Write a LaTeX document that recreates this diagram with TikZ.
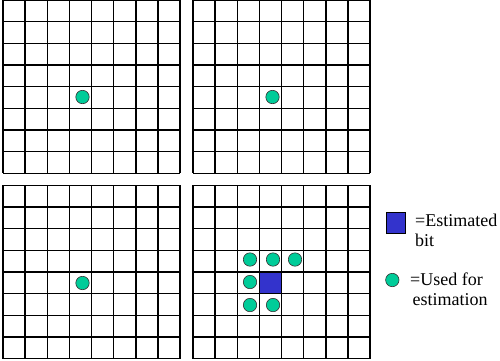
\documentclass[tikz,border=0pt]{standalone}
\usepackage{fontspec}
\setmainfont{Liberation Serif}
\newfontfamily\legendfont{Liberation Serif}
\definecolor{usedgreen}{RGB}{0,204,153}
\definecolor{estblue}{RGB}{51,51,204}
\begin{document}
\begin{tikzpicture}[x=1bp,y=-1bp,
    gridline/.style={line width=1.5bp,black},
    useddot/.style={circle,draw=black!80,line width=0.6bp,fill=usedgreen,
      minimum size=13.4bp,inner sep=0pt},
    estbit/.style={rectangle,draw=black,line width=0.8bp,fill=estblue,
      minimum width=21bp,minimum height=21bp,inner sep=0pt},
    legendtext/.style={anchor=base west,align=left,inner sep=0pt,
      font=\legendfont\fontsize{18bp}{20bp}\selectfont}]
   		\useasboundingbox (0,0) rectangle (500,360);
   		
   		% Four 8x8 bit grids
   		\foreach \gx/\gy in {3/0, 193/0, 3/185.3, 193/185.3} {
   			\foreach \i in {0,...,8} {
   				\draw[gridline] (\gx+\i*22.125,\gy) -- (\gx+\i*22.125,\gy+173.4);
   				\draw[gridline] (\gx,\gy+\i*21.675) -- (\gx+177,\gy+\i*21.675);
   			}
   		}
   		
   		% Single bits used
   		\node[useddot] (dotA) at (82.5,97) {};
   		\node[useddot] (dotB) at (272.5,97) {};
   		\node[useddot] (dotC) at (82.5,283) {};
   		
   		% Estimated bit and its neighbours
   		\node[estbit,minimum width=22.1bp,minimum height=21.7bp] (est) at (270.5,282.8) {};
   		\node[useddot] (nbA) at (250,259.5) {};
   		\node[useddot] (nbB) at (273,259.5) {};
   		\node[useddot] (nbC) at (295,259.5) {};
   		\node[useddot] (nbD) at (250,282) {};
   		\node[useddot] (nbE) at (250,305) {};
   		\node[useddot] (nbF) at (273,305) {};
   		
   		% Legend (text anchored at the baseline of its last line)
   		\node[estbit,minimum width=19bp] (keyest) at (395.5,223) {};
   		\node[legendtext] (keyesttext) at (415,246.7) {=Estimated\\bit};
   		\node[useddot] (keyused) at (392.3,280) {};
   		\node[legendtext] (keyusedtext) at (410,305) {=Used for\\\hspace{2.3bp}estimation};
   		
\end{tikzpicture}
\end{document}
